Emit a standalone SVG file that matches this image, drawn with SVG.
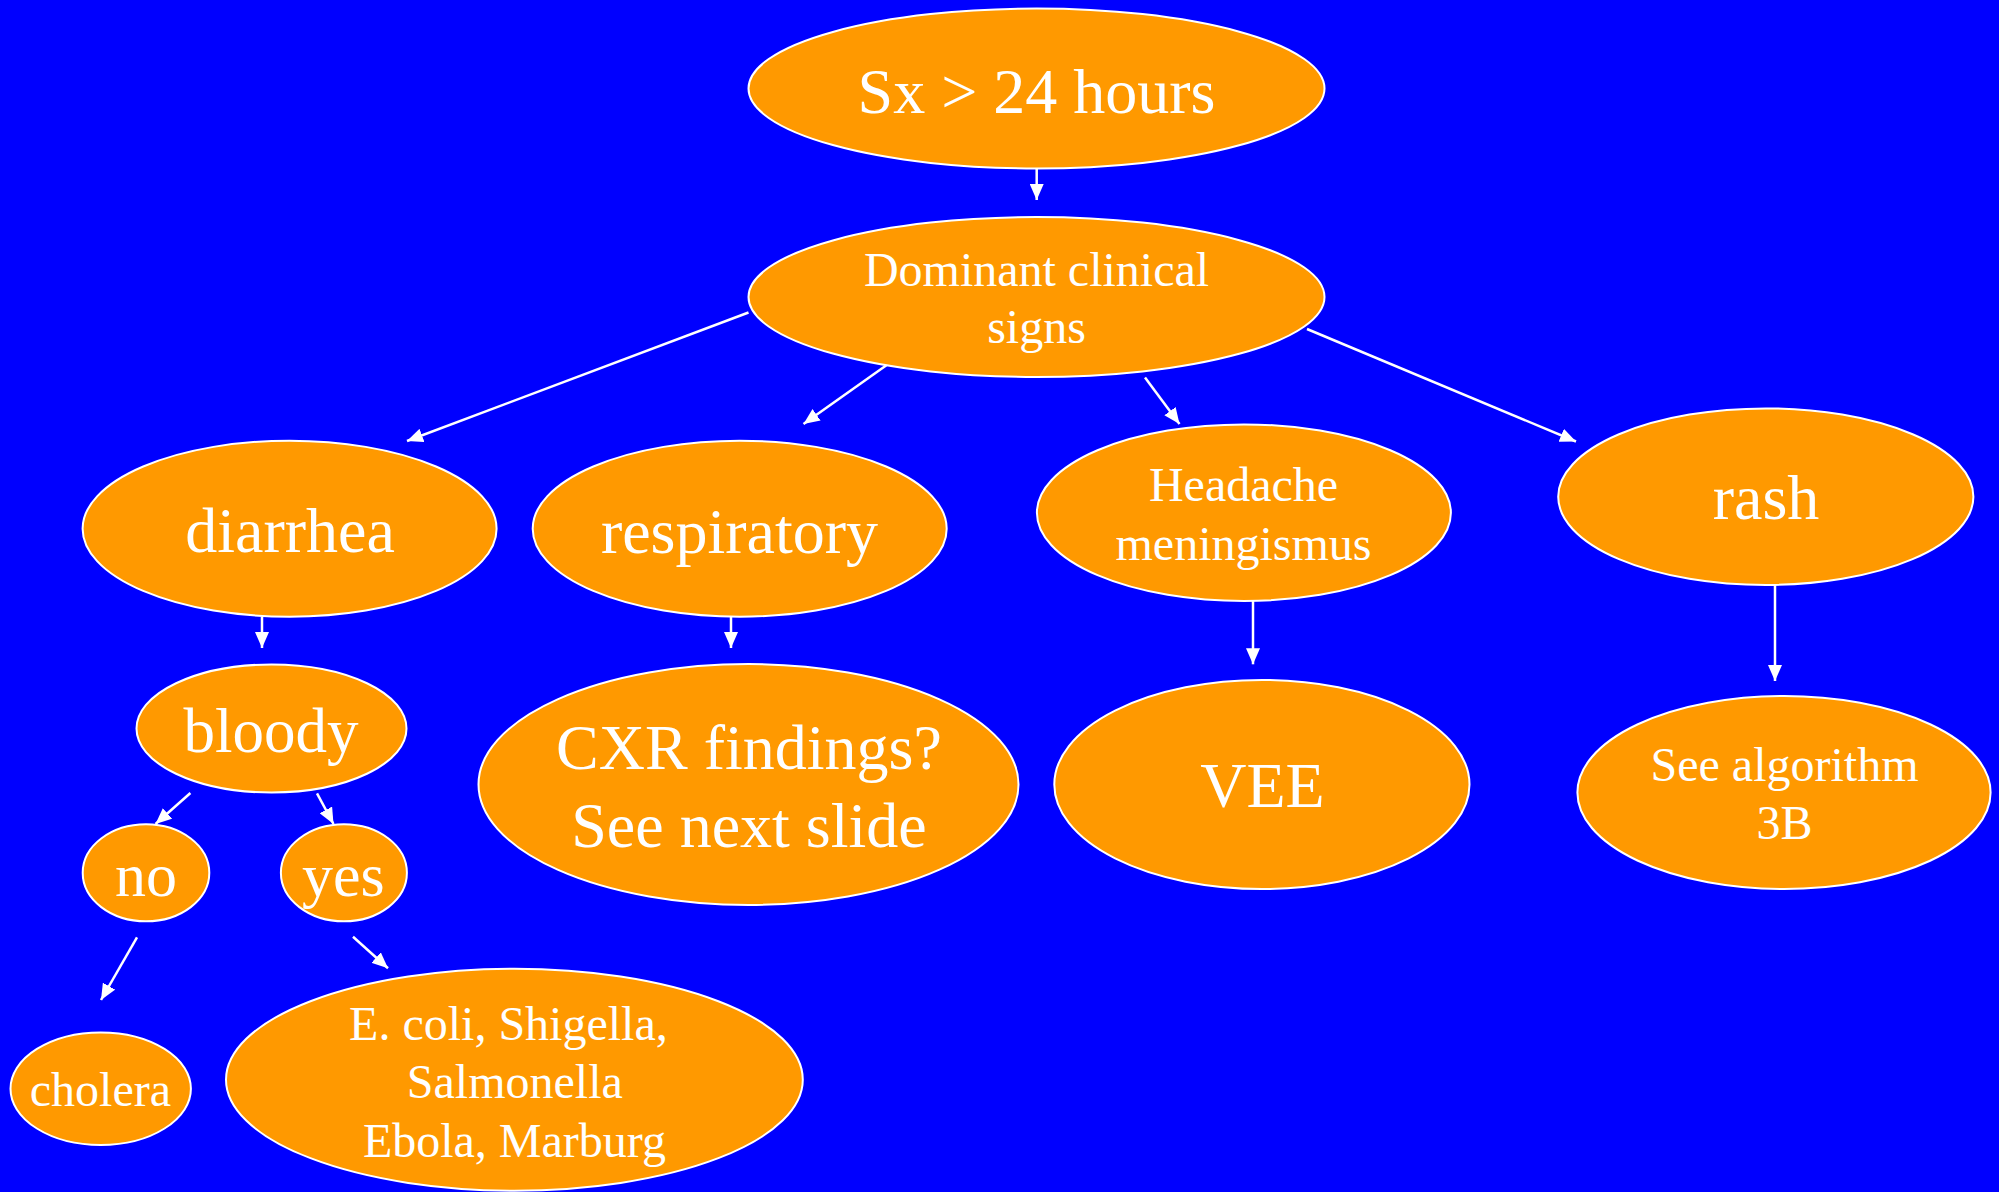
<svg xmlns="http://www.w3.org/2000/svg" width="1999" height="1192" viewBox="0 0 1999 1192">
  <style>
    .node ellipse { fill: #FF9900; stroke: #FFFFFF; stroke-width: 2; }
    .node text { fill: #FFFFFF; font-family: "Liberation Serif", "Times New Roman", serif; text-anchor: middle; }
    .big { font-size: 64px; }
    .small { font-size: 48px; }
    .edges line { stroke: #FFFFFF; stroke-width: 2.5; fill: none; marker-end: url(#arrow); }
  </style>
  <defs>
    <marker id="arrow" markerUnits="userSpaceOnUse" markerWidth="16" markerHeight="14" refX="16" refY="7" orient="auto">
      <path d="M0,0 L16,7 L0,14 z" fill="#FFFFFF"/>
    </marker>
  </defs>

  <rect x="0" y="0" width="1999" height="1192" fill="#0000FF"/>

  <!-- connectors -->
  <g id="edges" class="edges">
    <line x1="1036.7" y1="168" x2="1036.7" y2="200"/>
    <line x1="748.5" y1="312.5" x2="407" y2="441"/>
    <line x1="891" y1="362" x2="803.5" y2="424"/>
    <line x1="1145" y1="377.4" x2="1179.5" y2="424"/>
    <line x1="1307" y1="329" x2="1576" y2="441.5"/>
    <line x1="262" y1="616.7" x2="262" y2="648"/>
    <line x1="731" y1="616.7" x2="731" y2="648"/>
    <line x1="1253" y1="601" x2="1253" y2="664.3"/>
    <line x1="1775" y1="585" x2="1775" y2="681"/>
    <line x1="190.4" y1="793" x2="155.5" y2="824"/>
    <line x1="317" y1="793.3" x2="333.5" y2="824"/>
    <line x1="137" y1="937.3" x2="101" y2="1000"/>
    <line x1="353" y1="936.7" x2="388" y2="968.3"/>
  </g>

  <g id="n_sx24" class="node">
    <ellipse cx="1036.5" cy="88.5" rx="288" ry="80"/>
    <text class="big" x="1036.5" y="113">Sx &gt; 24 hours</text>
  </g>

  <g id="n_dominant" class="node">
    <ellipse cx="1036.5" cy="297" rx="288" ry="80"/>
    <text class="small" x="1036.5" y="286">Dominant clinical</text>
    <text class="small" x="1036.5" y="343">signs</text>
  </g>

  <g id="n_diarrhea" class="node">
    <ellipse cx="289.6" cy="528.7" rx="207" ry="88"/>
    <text class="big" x="290" y="552">diarrhea</text>
  </g>

  <g id="n_respiratory" class="node">
    <ellipse cx="739.7" cy="528.7" rx="207" ry="88"/>
    <text class="big" x="739.5" y="553">respiratory</text>
  </g>

  <g id="n_headache" class="node">
    <ellipse cx="1243.9" cy="512.7" rx="207" ry="88.3"/>
    <text class="small" x="1243.5" y="501">Headache</text>
    <text class="small" x="1243.5" y="560">meningismus</text>
  </g>

  <g id="n_rash" class="node">
    <ellipse cx="1765.8" cy="496.7" rx="207.6" ry="88.3"/>
    <text class="big" x="1766" y="519.3">rash</text>
  </g>

  <g id="n_bloody" class="node">
    <ellipse cx="271.5" cy="728.5" rx="135" ry="64"/>
    <text x="271" y="751.7" style="font-size:63px">bloody</text>
  </g>

  <g id="n_cxr" class="node">
    <ellipse cx="748.5" cy="784.5" rx="270" ry="120.5"/>
    <text class="big" x="749" y="769.3">CXR findings?</text>
    <text class="big" x="749" y="846.7">See next slide</text>
  </g>

  <g id="n_vee" class="node">
    <ellipse cx="1261.9" cy="784.5" rx="207.6" ry="104.5"/>
    <text class="big" x="1262.5" y="807.3">VEE</text>
  </g>

  <g id="n_algorithm" class="node">
    <ellipse cx="1784" cy="792.5" rx="206.6" ry="96.5"/>
    <text class="small" x="1784.5" y="781">See algorithm</text>
    <text class="small" x="1784.5" y="839.3">3B</text>
  </g>

  <g id="n_no" class="node">
    <ellipse cx="146" cy="872.8" rx="63.3" ry="48.5"/>
    <text x="146" y="896" style="font-size:62px">no</text>
  </g>

  <g id="n_yes" class="node">
    <ellipse cx="343.9" cy="872.8" rx="63" ry="48.5"/>
    <text x="343.4" y="896" style="font-size:62px">yes</text>
  </g>

  <g id="n_cholera" class="node">
    <ellipse cx="100.7" cy="1088.7" rx="90.2" ry="56.3"/>
    <text class="small" x="100.4" y="1106">cholera</text>
  </g>

  <g id="n_bloody_pathogens" class="node">
    <ellipse cx="514.4" cy="1079.7" rx="288.4" ry="111"/>
    <text class="small" x="508.4" y="1040">E. coli, Shigella,</text>
    <text class="small" x="514.8" y="1098.3">Salmonella</text>
    <text class="small" x="514.4" y="1156.7">Ebola, Marburg</text>
  </g>
</svg>
